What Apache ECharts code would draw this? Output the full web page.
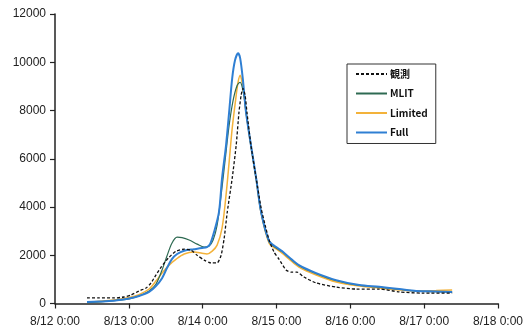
<!DOCTYPE html>
<html><head><meta charset="utf-8">
<script src="https://cdn.jsdelivr.net/npm/echarts@6/dist/echarts.min.js"></script>
<style>html,body{margin:0;padding:0;background:#fff}#c{width:526px;height:333px}</style>
</head><body><div id="c"></div>
<script>
// hours since 8/12 0:00
const xTickLabels = ['8/12 0:00','8/13 0:00','8/14 0:00','8/15 0:00','8/16 0:00','8/17 0:00','8/18 0:00'];
const yTicks = [0,2000,4000,6000,8000,10000,12000];
const seriesNames = ['観測','MLIT','Limited','Full'];

const obsHours = [10.4,14.3,19.2,22.4,24.7,27.3,29.6,31.2,32.8,34.5,37.1,39.4,42.0,44.2,46.2,48.5,50.7,52.7,54.0,55.0,56.0,57.6,58.9,59.8,60.5,61.1,61.8,62.4,63.7,65.4,67.0,68.3,69.6,71.2,72.8,75.1,76.8,78.7,80.9,84.9,91.4,97.9,105.4,111.9,119.4,129.1];
const obsValues = [230,230,230,270,350,520,640,850,1180,1510,1920,2170,2250,2210,2000,1800,1680,1680,2000,2710,3790,5190,6560,7920,8630,8920,8630,7920,6560,5190,3950,3250,2630,2130,1840,1390,1300,1300,1100,850,680,600,600,480,430,430];

const mlitHours = [10.4,17.6,24.1,27.3,30.6,32.8,34.8,36.4,38.0,39.7,41.3,43.6,46.2,48.5,50.1,51.4,52.7,54.0,55.3,56.6,57.9,59.2,60.2,60.8,61.5,62.1,63.7,65.4,67.0,69.6,71.9,73.8,76.1,79.3,84.9,91.4,98.9,105.4,111.9,117.4,123.9,129.1];
const mlitValues = [40,100,190,310,520,800,1390,1970,2500,2750,2730,2630,2460,2340,2380,2630,3250,4490,5940,7380,8420,9040,9170,9000,8550,7920,6520,5150,3760,2560,2300,2150,1900,1570,1240,950,750,680,590,510,490,470];

const limHours = [10.4,17.6,24.1,27.3,30.6,32.8,34.8,37.1,39.4,42.0,45.2,47.8,49.4,51.1,52.7,54.3,55.6,56.6,57.6,58.9,59.5,60.2,60.8,61.5,62.1,63.7,65.4,67.0,69.6,71.9,73.8,76.1,79.3,84.9,91.4,98.9,105.4,111.9,117.4,123.9,129.1];
const limValues = [60,125,250,370,600,930,1260,1590,1840,2050,2130,2080,2050,2170,2420,3120,4490,5850,7260,8630,9170,9460,9170,8590,7920,6520,5150,3750,2500,2260,2090,1840,1510,1180,890,720,640,560,520,540,560];

const fullHours = [10.4,14.3,17.6,20.8,24.1,27.3,30.6,32.8,34.8,36.4,38.0,39.7,42.0,45.2,47.8,49.4,50.4,51.7,53.3,54.3,55.6,56.6,57.6,58.5,59.5,60.2,61.1,62.1,63.7,65.4,67.0,69.6,71.9,73.8,76.1,79.3,84.9,91.4,98.9,105.4,111.9,117.4,123.9,129.1];
const fullValues = [60,80,100,145,210,310,480,720,1050,1470,1840,2050,2190,2250,2300,2340,2460,2960,3790,5190,6560,7920,9330,10070,10370,10160,9250,7920,6560,5190,3790,2590,2340,2170,1920,1590,1260,970,765,690,600,520,500,480];

function pairs(h, v){ return h.map((x,i)=>[x, v[i]]); }

const chart = echarts.init(document.getElementById('c'), null, {renderer:'canvas'});
const fontFam = '"Liberation Sans", Arial, "Noto Sans CJK JP", sans-serif';
chart.setOption({
  animation:false,
  backgroundColor:'#fff',
  grid:{left:55, right:28, top:14, bottom:29.5},
  legend:{
    orient:'vertical', left:347, top:64, width:84,
    padding:[5,8,6,8],
    itemWidth:31, itemHeight:10, itemGap:9.5,
    borderColor:'#333', borderWidth:1,
    itemStyle:{opacity:0},
    data:seriesNames,
    textStyle:{fontFamily:'"Noto Sans CJK JP", "Liberation Sans", sans-serif', fontSize:10, color:'#111', fontWeight:'bold', padding:[0,0,0,-2]}
  },
  xAxis:{
    type:'value', min:0, max:144, interval:24,
    axisLine:{lineStyle:{color:'#222', width:1.5}},
    axisTick:{show:true, length:5, lineStyle:{color:'#222', width:1.2}},
    splitLine:{show:false},
    axisLabel:{margin:12, fontSize:12, color:'#222', fontFamily:fontFam,
      formatter:function(v){ return xTickLabels[Math.round(v/24)] || ''; }}
  },
  yAxis:{
    type:'value', min:0, max:12000, interval:2000,
    axisLine:{show:true, lineStyle:{color:'#222', width:1.5}},
    axisTick:{show:true, length:5, lineStyle:{color:'#222', width:1.2}},
    splitLine:{show:false},
    axisLabel:{margin:9, fontSize:12, color:'#222', fontFamily:fontFam,
      formatter:function(v){ return yTicks.indexOf(v) >= 0 ? String(v) : ''; }}
  },
  series:[
    {name:seriesNames[0], type:'line', data:pairs(obsHours, obsValues), symbol:'none', smooth:0.2,
      lineStyle:{color:'#111', width:1.3, type:[3,2]}, itemStyle:{color:'#111'}, z:5},
    {name:seriesNames[1], type:'line', data:pairs(mlitHours, mlitValues), symbol:'none', smooth:0.3,
      lineStyle:{color:'#2e6a52', width:1.2}, itemStyle:{color:'#2e6a52'}, z:3},
    {name:seriesNames[2], type:'line', data:pairs(limHours, limValues), symbol:'none', smooth:0.3,
      lineStyle:{color:'#f3b23a', width:1.5}, itemStyle:{color:'#f3b23a'}, z:2},
    {name:seriesNames[3], type:'line', data:pairs(fullHours, fullValues), symbol:'none', smooth:0.3,
      lineStyle:{color:'#2f7fd3', width:2}, itemStyle:{color:'#2f7fd3'}, z:4}
  ]
});
</script></body></html>
